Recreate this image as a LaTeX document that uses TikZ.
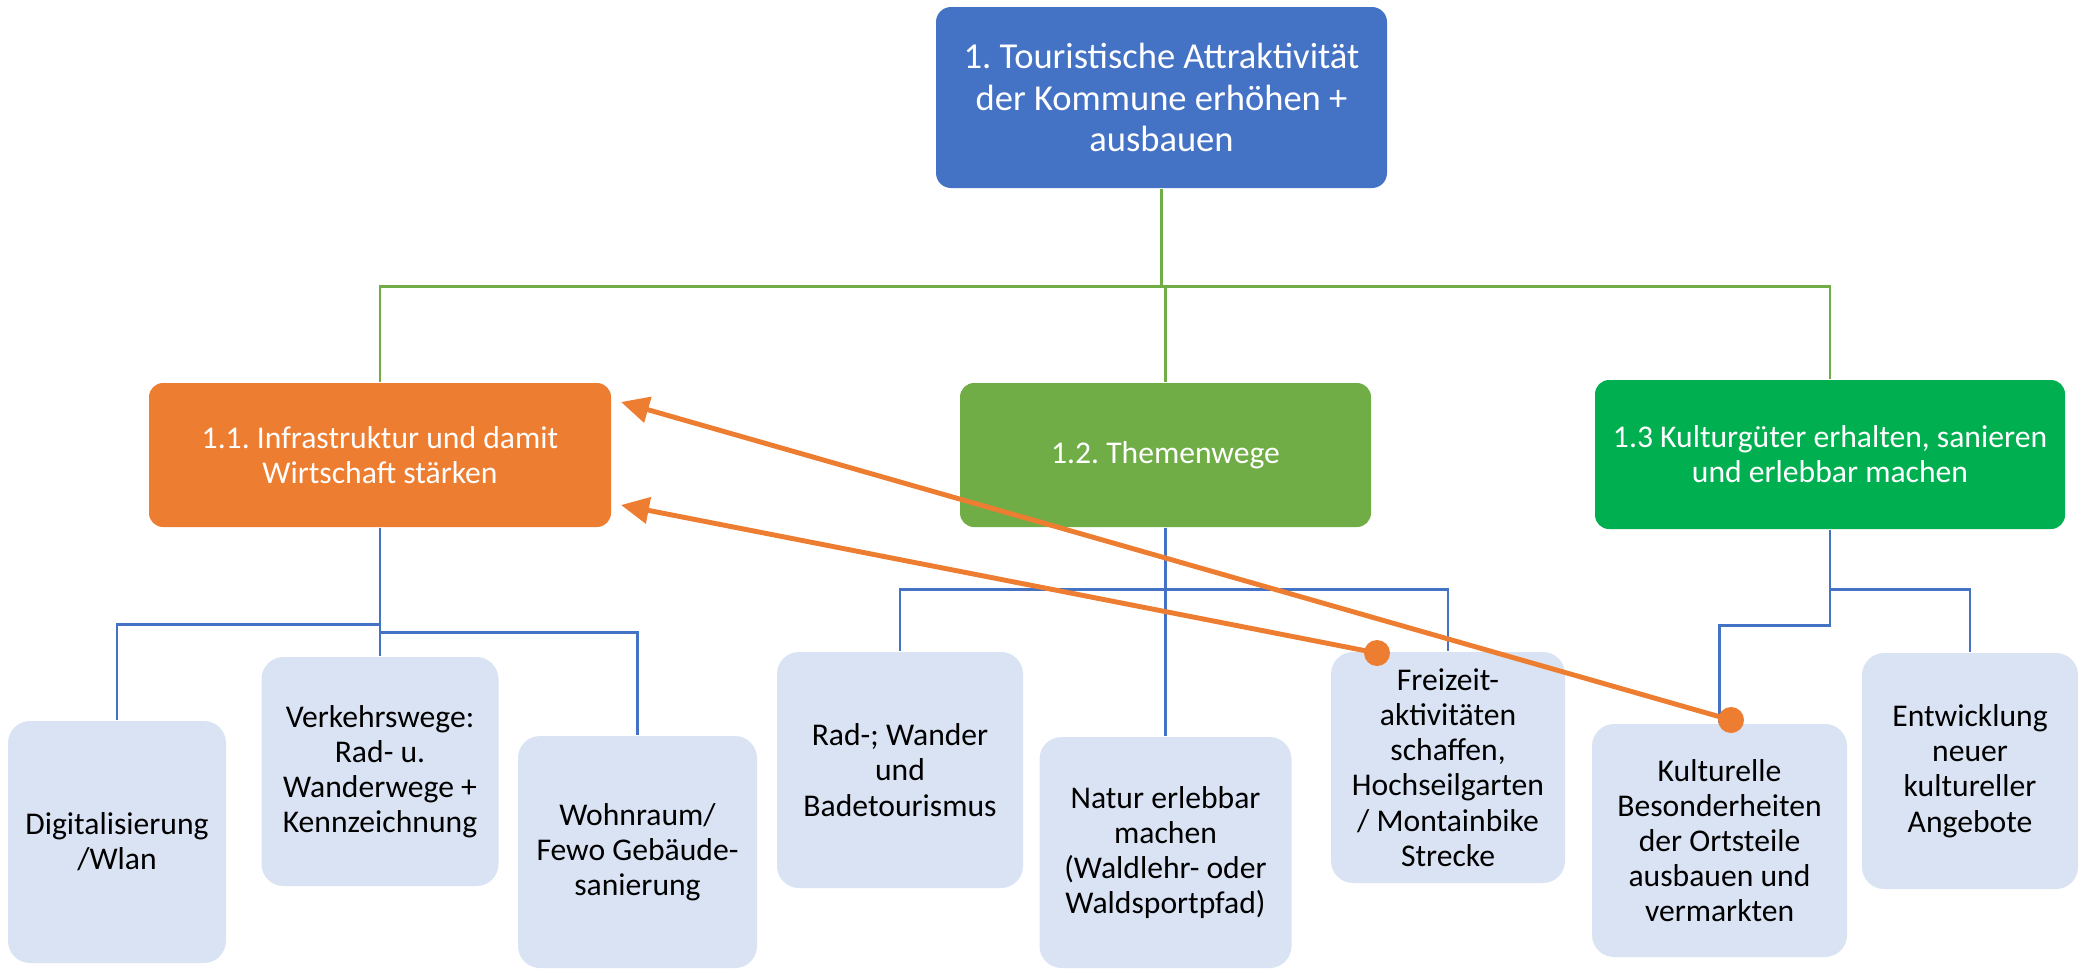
\documentclass[tikz,border=0pt]{standalone}
\usepackage{fontspec}
\setmainfont{Carlito}
\usetikzlibrary{arrows.meta}
\definecolor{topblue}{HTML}{4472C4}
\definecolor{infraorange}{HTML}{ED7D31}
\definecolor{wegegreen}{HTML}{70AD47}
\definecolor{kulturgreen}{HTML}{00B050}
\definecolor{leafblue}{HTML}{DAE3F3}

\begin{document}
\frenchspacing
\begin{tikzpicture}[
  goalbox/.style={fill=topblue, text=white, rounded corners=0.15cm, inner sep=0pt,
    minimum width=4.51cm, minimum height=1.81cm, align=center,
    font=\fontsize{10.4}{11.8}\selectfont},
  subbox/.style={text=white, rounded corners=0.14cm, inner sep=0pt,
    minimum height=1.44cm, align=center, font=\fontsize{9}{10}\selectfont},
  leafbox/.style={fill=leafblue, rounded corners=0.22cm, inner sep=0pt,
    align=center, font=\fontsize{9}{10}\selectfont},
  greenline/.style={draw=wegegreen, line width=0.75pt},
  blueline/.style={draw=topblue, line width=0.7pt},
  orangelink/.style={draw=infraorange, line width=1.4pt,
    -{Triangle[length=0.28cm,width=0.26cm]}}
]
\useasboundingbox (0,0) rectangle (20.82,-9.69);

% goal and sub goals
\node (goal) at (11.615,-0.975) [goalbox] {1. Touristische Attraktivität\\der Kommune erhöhen +\\ausbauen};
\node (infra) at (3.80,-4.55) [subbox, fill=infraorange, minimum width=4.62cm] {1.1. Infrastruktur und damit\\Wirtschaft stärken};
\node (themen) at (11.655,-4.55) [subbox, fill=wegegreen, minimum width=4.11cm] {1.2. Themenwege};
\node (kultur) at (18.30,-4.545) [subbox, fill=kulturgreen, minimum width=4.70cm, minimum height=1.49cm] {1.3 Kulturgüter erhalten, sanieren\\und erlebbar machen};

% measures
\node (digi) at (1.17,-8.42) [leafbox, minimum width=2.18cm, minimum height=2.42cm] {Digitalisierung\\/Wlan};
\node (verkehr) at (3.80,-7.715) [leafbox, minimum width=2.37cm, minimum height=2.29cm] {Verkehrswege:\\Rad- u.\\Wanderwege +\\Kennzeichnung};
\node (wohn) at (6.375,-8.52) [leafbox, minimum width=2.39cm, minimum height=2.32cm] {Wohnraum/\\Fewo Gebäude-\\sanierung};
\node (rad) at (9.00,-7.70) [leafbox, minimum width=2.46cm, minimum height=2.36cm] {Rad-; Wander\\und\\Badetourismus};
\node (natur) at (11.655,-8.525) [leafbox, minimum width=2.52cm, minimum height=2.31cm] {Natur erlebbar\\machen\\(Waldlehr- oder\\Waldsportpfad)};
\node (frei) at (14.48,-7.675) [leafbox, minimum width=2.34cm, minimum height=2.31cm] {Freizeit-\\aktivitäten\\schaffen,\\Hochseilgarten\\/ Montainbike\\Strecke};
\node (kult) at (17.195,-8.405) [leafbox, minimum width=2.55cm, minimum height=2.33cm] {Kulturelle\\Besonderheiten\\der Ortsteile\\ausbauen und\\vermarkten};
\node (entw) at (19.70,-7.71) [leafbox, minimum width=2.16cm, minimum height=2.36cm] {Entwicklung\\neuer\\kultureller\\Angebote};

% tree lines
\draw[greenline] (goal.south) -- ++(0,-0.98) -| (infra.north);
\draw[greenline] (goal.south) -- ++(0,-0.98) -| (themen.north);
\draw[greenline] (goal.south) -- ++(0,-0.98) -| (kultur.north);

\draw[blueline] (infra.south) -- (verkehr.north);
\draw[blueline] (infra.south) -- ++(0,-0.97) -| (digi.north);
\draw[blueline] (infra.south) -- ++(0,-1.05) -| (wohn.north);
\draw[blueline] (themen.south) -- (natur.north);
\draw[blueline] (themen.south) -- ++(0,-0.62) -| (rad.north);
\draw[blueline] (themen.south) -- ++(0,-0.62) -| (frei.north);
\draw[blueline] (kultur.south) -- ++(0,-0.60) -| (entw.north);
\draw[blueline] (kultur.south) -- ++(0,-0.96) -| (kult.north);

% links back to 1.1
\coordinate (freidot) at (13.77,-6.53);
\coordinate (kultdot) at (17.31,-7.20);
\coordinate (tipupper) at (6.21,-4.02);
\coordinate (tiplower) at (6.21,-5.05);
\draw[orangelink] (kultdot) -- (tipupper);
\draw[orangelink] (freidot) -- (tiplower);
\fill[infraorange] (kultdot) circle (0.13);
\fill[infraorange] (freidot) circle (0.13);
\end{tikzpicture}
\end{document}
